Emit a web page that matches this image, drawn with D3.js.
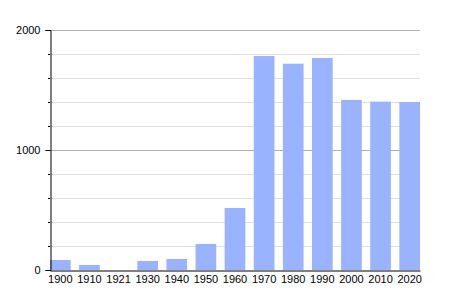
<!DOCTYPE html>
<html>
<head>
<meta charset="utf-8">
<script src="https://cdn.jsdelivr.net/npm/d3@7"></script>
<style>
  body { margin: 0; background: #fff; }
  text { font-family: "Liberation Sans", Arial, sans-serif; font-size: 11px; fill: #000; }
</style>
</head>
<body>
<div id="chart"></div>
<script>
// years and population
var years = ["1900", "1910", "1921", "1930", "1940", "1950", "1960", "1970", "1980", "1990", "2000", "2010", "2020"];
var population = [83, 42, 0, 75, 92, 217, 517, 1783, 1719, 1767, 1417, 1403, 1400];
var majorTicks = [0, 1000, 2000];
var minorTicks = [200, 400, 600, 800, 1200, 1400, 1600, 1800];

var WIDTH = 450, HEIGHT = 300;
var margin = { left: 50, right: 30, top: 30, bottom: 30 };

var svg = d3.select("#chart").append("svg")
    .attr("width", WIDTH)
    .attr("height", HEIGHT);

var x = d3.scaleBand()
    .domain(years)
    .range([margin.left, WIDTH - margin.right])
    .paddingInner(0.29)
    .paddingOuter(0);

var y = d3.scaleLinear()
    .domain([0, 2000])
    .range([HEIGHT - margin.bottom, margin.top]);

// grid lines
svg.append("g").selectAll("line")
    .data(minorTicks).enter()
    .append("line")
    .attr("x1", margin.left).attr("x2", WIDTH - margin.right)
    .attr("y1", function (d) { return y(d) + 0.5; })
    .attr("y2", function (d) { return y(d) + 0.5; })
    .attr("stroke", "#e0e0e0");

svg.append("g").selectAll("line")
    .data(majorTicks.filter(function (d) { return d > 0; })).enter()
    .append("line")
    .attr("x1", margin.left).attr("x2", WIDTH - margin.right)
    .attr("y1", function (d) { return y(d) + 0.5; })
    .attr("y2", function (d) { return y(d) + 0.5; })
    .attr("stroke", "#b0b0b0");

// bars
svg.append("g").selectAll("rect")
    .data(population).enter()
    .append("rect")
    .attr("x", function (d, i) { return x(years[i]); })
    .attr("y", function (d) { return y(d); })
    .attr("width", x.bandwidth())
    .attr("height", function (d) { return y(0) - y(d); })
    .attr("fill", "#99b3ff");

// y axis: major ticks with labels, minor ticks without
var yAxis = svg.append("g")
    .attr("transform", "translate(" + (margin.left + 0.5) + ",0)")
    .call(d3.axisLeft(y).tickValues(majorTicks).tickSize(5).tickPadding(5).tickFormat(d3.format("d")));
yAxis.select(".domain").attr("stroke", "#000");
yAxis.selectAll("text").attr("dy", "0.35em");

svg.append("g").selectAll("line")
    .data(minorTicks).enter()
    .append("line")
    .attr("x1", margin.left - 2).attr("x2", margin.left)
    .attr("y1", function (d) { return y(d) + 0.5; })
    .attr("y2", function (d) { return y(d) + 0.5; })
    .attr("stroke", "#000");

// x axis
var xAxis = svg.append("g")
    .attr("transform", "translate(0," + (y(0) + 0.5) + ")")
    .call(d3.axisBottom(x).tickSize(0).tickPadding(5));
xAxis.select(".domain").attr("stroke", "#000");
</script>
</body>
</html>
